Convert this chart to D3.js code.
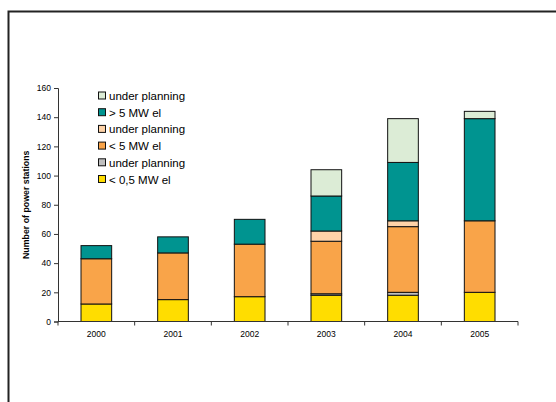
<!DOCTYPE html>
<html>
<head>
<meta charset="utf-8">
<script src="https://cdn.jsdelivr.net/npm/d3@7"></script>
<style>
body{margin:0;background:#fff;}
svg{display:block;font-family:"Liberation Sans",Arial,sans-serif;}
</style>
</head>
<body>
<div id="chart"></div>
<script>
// categories and series (bottom to top of each stack)
var years=["2000","2001","2002","2003","2004","2005"];
var seriesNames=["< 0,5 MW el","under planning","< 5 MW el","under planning","> 5 MW el","under planning"];
var seriesColors=["#ffdd00","#c0c0c0","#f9a449","#ffd3a8","#009490","#dcecd6"];
var small=[12,15,17,18,18,20];
var smallPlan=[0,0,0,1,2,0];
var medium=[31,32,36,36,45,49];
var mediumPlan=[0,0,0,7,4,0];
var large=[9,11,17,24,40,70];
var largePlan=[0,0,0,18,30,5];
var yTicks=[0,20,40,60,80,100,120,140,160];

var seriesVals=[small,smallPlan,medium,mediumPlan,large,largePlan];

var W=556,H=402;
var svg=d3.select("#chart").append("svg")
	.attr("width",W)
	.attr("height",H);

// outer frame, runs off the right and bottom
svg.append("rect")
	.attr("x",8.5).attr("y",11.5)
	.attr("width",600).attr("height",450)
	.attr("fill","none")
	.attr("stroke","#222")
	.attr("stroke-width",2);

var plotLeft=58,plotRight=518,plotTop=88,plotBottom=321.5;

var x=d3.scaleBand().domain(years).range([plotLeft,plotRight]).paddingInner(0.6).paddingOuter(0.3);
var y=d3.scaleLinear().domain([0,160]).range([plotBottom,plotTop]);

// build table for stack
var table=years.map(function(yr,i){
	var row={year:yr};
	seriesVals.forEach(function(s,k){ row["s"+k]=s[i]; });
	return row;
});
var keys=seriesVals.map(function(s,k){return "s"+k;});
var stacked=d3.stack().keys(keys)(table);

stacked.forEach(function(layer,k){
	svg.append("g").selectAll("rect")
		.data(layer.filter(function(d){return d[1]>d[0];}))
		.enter().append("rect")
		.attr("x",function(d){return x(d.data.year);})
		.attr("y",function(d){return y(d[1]);})
		.attr("width",x.bandwidth())
		.attr("height",function(d){return y(d[0])-y(d[1]);})
		.attr("fill",seriesColors[k])
		.attr("stroke","#111")
		.attr("stroke-width",1);
});

// y axis
var yAxis=svg.append("g")
	.attr("transform","translate("+plotLeft+",0)")
	.call(d3.axisLeft(y).tickValues(yTicks).tickSize(4).tickPadding(3));
yAxis.select(".domain").attr("stroke","#333");
yAxis.selectAll(".tick line").attr("stroke","#333");
yAxis.selectAll("text").attr("font-size","8.5px").attr("fill","#000")
	.attr("font-family","'Liberation Sans',Arial,sans-serif");

// x axis with ticks at category boundaries
var xAxis=svg.append("g")
	.attr("transform","translate(0,"+plotBottom+")");
xAxis.append("line")
	.attr("x1",plotLeft).attr("x2",plotRight)
	.attr("stroke","#333");
var step=(plotRight-plotLeft)/years.length;
d3.range(years.length+1).forEach(function(i){
	xAxis.append("line")
		.attr("x1",plotLeft+i*step).attr("x2",plotLeft+i*step)
		.attr("y1",0).attr("y2",4)
		.attr("stroke","#333");
});
xAxis.selectAll("text.yr")
	.data(years)
	.enter().append("text")
	.attr("class","yr")
	.attr("x",function(d){return x(d)+x.bandwidth()/2;})
	.attr("y",15.5)
	.attr("text-anchor","middle")
	.attr("font-size","8.5px")
	.text(function(d){return d;});

// y title
svg.append("text")
	.attr("transform","translate(29,"+((plotTop+plotBottom)/2)+") rotate(-90)")
	.attr("text-anchor","middle")
	.attr("font-size","8.8px")
	.attr("font-weight","bold")
	.text("Number of power stations");

// legend, top row is the top of the stack
var legendY0=96,legendStep=16.7;
var order=d3.range(seriesNames.length).reverse();
var lg=svg.append("g");
order.forEach(function(k,i){
	var cy=legendY0+i*legendStep;
	lg.append("rect")
		.attr("x",98.5).attr("y",cy-4)
		.attr("width",7).attr("height",7)
		.attr("fill",seriesColors[k])
		.attr("stroke","#111");
	lg.append("text")
		.attr("x",109).attr("y",cy+4)
		.attr("font-size","11.5px")
		.text(seriesNames[k]);
});
</script>
</body>
</html>
